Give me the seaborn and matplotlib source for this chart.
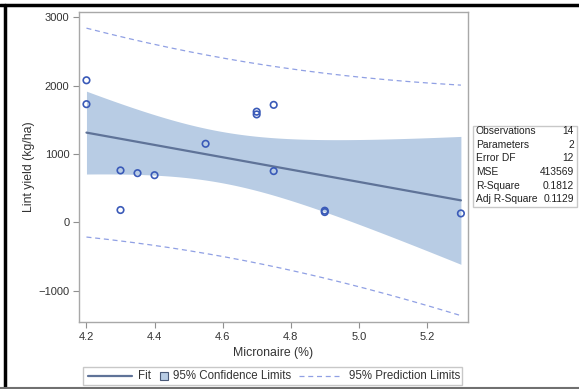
import numpy as np
import pandas as pd
import matplotlib
matplotlib.use("Agg")
import matplotlib.pyplot as plt
import seaborn as sns
from matplotlib.lines import Line2D
from matplotlib.patches import Rectangle

# Data
micronaire = [4.2, 4.2, 4.3, 4.3, 4.35, 4.4, 4.55, 4.7, 4.7, 4.75, 4.75, 4.9, 4.9, 5.3]
lint_yield = [2080, 1730, 760, 180, 720, 690, 1150, 1620, 1580, 1720, 750, 170, 150, 130]

stat_labels = ["Observations", "Parameters", "Error DF", "MSE", "R-Square", "Adj R-Square"]
stat_values = ["14", "2", "12", "413569", "0.1812", "0.1129"]

x_ticks = [4.2, 4.4, 4.6, 4.8, 5.0, 5.2]
y_ticks = [-1000, 0, 1000, 2000, 3000]

df = pd.DataFrame({"micronaire": micronaire, "lint_yield": lint_yield})

# OLS fit with 95% confidence and prediction limits
x = df["micronaire"].to_numpy()
y = df["lint_yield"].to_numpy()
n = len(x)
b1, b0 = np.polyfit(x, y, 1)
resid = y - (b0 + b1 * x)
mse = (resid ** 2).sum() / (n - 2)
sxx = ((x - x.mean()) ** 2).sum()
t = 2.178812829667228  # t(0.975, 12)

grid = np.linspace(x.min(), x.max(), 200)
fit = b0 + b1 * grid
se_mean = np.sqrt(mse * (1 / n + (grid - x.mean()) ** 2 / sxx))
se_pred = np.sqrt(mse * (1 + 1 / n + (grid - x.mean()) ** 2 / sxx))
band = pd.DataFrame({"x": grid, "fit": fit,
                     "cl_lo": fit - t * se_mean, "cl_hi": fit + t * se_mean,
                     "pl_lo": fit - t * se_pred, "pl_hi": fit + t * se_pred})

fill_col = "#b8cce4"
fit_col = "#5f7398"
pt_col = "#3a5ab8"
pred_col = "#90a0e4"
txt_col = "#333333"

sns.set_style("white")
plt.rcParams["font.family"] = ["Liberation Sans", "DejaVu Sans"]

W, H = 579, 389
fig = plt.figure(figsize=(W / 100, H / 100), dpi=100)
ax = fig.add_axes([0.1364, 0.1722, 0.6714, 0.797])

ax.fill_between(band["x"], band["cl_lo"], band["cl_hi"], color=fill_col, lw=0, zorder=1)
sns.lineplot(data=band, x="x", y="fit", ax=ax, color=fit_col, lw=1.6, zorder=3)
sns.lineplot(data=band, x="x", y="pl_hi", ax=ax, color=pred_col, lw=0.9, zorder=2)
sns.lineplot(data=band, x="x", y="pl_lo", ax=ax, color=pred_col, lw=0.9, zorder=2)
for ln in ax.lines[1:]:
    ln.set_dashes([4, 3])
sns.scatterplot(data=df, x="micronaire", y="lint_yield", ax=ax, marker="o", s=22,
                facecolor="none", edgecolor=pt_col, linewidth=1.2, zorder=4)

ax.set_xlim(4.178, 5.32)
ax.set_ylim(-1460, 3080)
ax.set_xticks(x_ticks)
ax.set_xticklabels([f"{v:.1f}" for v in x_ticks])
ax.set_yticks(y_ticks)
ax.tick_params(axis="both", direction="out", length=4, width=0.8, color="#909090",
               labelsize=8, labelcolor=txt_col, pad=3)
ax.tick_params(left=True, bottom=True)
for sp in ax.spines.values():
    sp.set_color("#a8a8a8")
    sp.set_linewidth(1)
ax.set_xlabel("Micronaire (%)", fontsize=8.8, color=txt_col, labelpad=4)
ax.set_ylabel("Lint yield (kg/ha)", fontsize=8.8, color=txt_col, labelpad=2)


def fx(px):
    return px / W


def fy(py):
    return 1 - py / H


# Fit statistics box
fig.add_artist(Rectangle((fx(473), fy(207)), 104 / W, 81 / H, transform=fig.transFigure,
                         facecolor="white", edgecolor="#c8c8c8", lw=1))
for i, (lab, val) in enumerate(zip(stat_labels, stat_values)):
    yy = fy(131 + i * 13.7)
    fig.text(fx(476), yy, lab, fontsize=7.4, color="#222222", va="center", ha="left")
    fig.text(fx(574), yy, val, fontsize=7.4, color="#222222", va="center", ha="right")

# Legend, laid out like the SAS one
ly = fy(376)
fig.add_artist(Rectangle((fx(83), fy(385)), 379 / W, 18 / H, transform=fig.transFigure,
                         facecolor="white", edgecolor="#c8c8c8", lw=1))
fig.add_artist(Line2D([fx(88), fx(132)], [ly, ly], transform=fig.transFigure,
                      color=fit_col, lw=1.6))
fig.text(fx(138), ly, "Fit", fontsize=8.3, color=txt_col, va="center")
fig.add_artist(Rectangle((fx(160), fy(380)), 8 / W, 8 / H, transform=fig.transFigure,
                         facecolor=fill_col, edgecolor="#4a5a78", lw=0.8))
fig.text(fx(173), ly, "95% Confidence Limits", fontsize=8.3, color=txt_col, va="center")
fig.add_artist(Line2D([fx(299), fx(341)], [ly, ly], transform=fig.transFigure,
                      color=pred_col, lw=0.9, dashes=[4, 3]))
fig.text(fx(349), ly, "95% Prediction Limits", fontsize=8.3, color=txt_col, va="center")

# Outer frame lines
fig.add_artist(Line2D([0, 1], [fy(5)] * 2, transform=fig.transFigure, color="black", lw=2.5))
fig.add_artist(Line2D([fx(5)] * 2, [fy(5), fy(387)], transform=fig.transFigure, color="black", lw=2.5))
fig.add_artist(Line2D([0, 1], [fy(387.5)] * 2, transform=fig.transFigure, color="#707070", lw=1.5))

fig.savefig("out.png", dpi=100)
